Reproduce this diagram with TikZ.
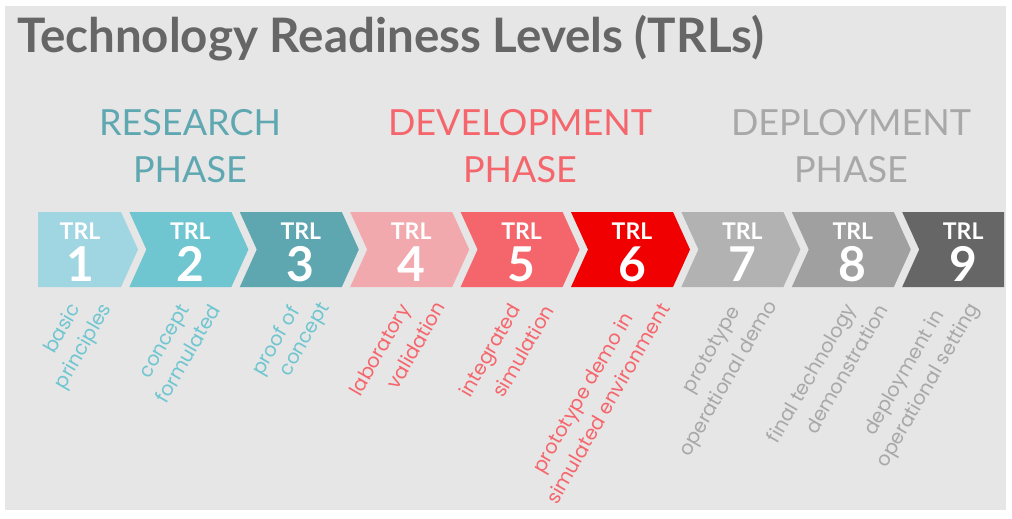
\documentclass[tikz,border=0pt]{standalone}
\usepackage{fontspec}
\newfontfamily\titlefont{Lato}
\newfontfamily\descfont{Poppins}
\definecolor{bg}{HTML}{E6E6E6}
\definecolor{titlegray}{HTML}{666666}
\definecolor{trlA}{HTML}{A0D5E2}
\definecolor{trlB}{HTML}{6FC6D0}
\definecolor{trlC}{HTML}{5EA6B0}
\definecolor{trlD}{HTML}{F2A9AE}
\definecolor{trlE}{HTML}{F5666C}
\definecolor{trlF}{HTML}{F00000}
\definecolor{trlG}{HTML}{B2B2B2}
\definecolor{trlH}{HTML}{A0A0A0}
\definecolor{trlI}{HTML}{666666}
\definecolor{resC}{HTML}{5FA8B2}
\definecolor{resD}{HTML}{6FC6D0}
\definecolor{devC}{HTML}{F5666C}
\definecolor{depC}{HTML}{A8A8A8}
\tikzset{
  trl/.style={inner sep=0pt, text=white, font=\titlefont\bfseries\fontsize{23}{25}\selectfont},
  num/.style={inner sep=0pt, text=white, font=\titlefont\bfseries\fontsize{48}{50}\selectfont},
  phase/.style={inner sep=0pt, align=center, font=\titlefont\fontsize{36}{47}\selectfont},
  desc/.style={inner sep=0pt, rotate=60, font=\descfont\fontsize{19.5}{22}\selectfont},
}
\begin{document}
\begin{tikzpicture}[x=1pt,y=-1pt]
\useasboundingbox (0,0) rectangle (1012,519);
\fill[white] (0,0) rectangle (1012,519);
\fill[bg] (5,6) rectangle (1006,510);
\node[anchor=base west, inner sep=0pt, text=titlegray, font=\titlefont\bfseries\fontsize{47.5}{52}\selectfont] (title) at (17,53) {Technology Readiness Levels (TRLs)};
\node[phase, text=resC] (ph1) at (190,146.5) {RESEARCH\\PHASE};
\node[phase, text=devC] (ph2) at (520,146.5) {DEVELOPMENT\\PHASE};
\node[phase, text=depC] (ph3) at (851,146.5) {DEPLOYMENT\\PHASE};
\foreach \i/\col in {1/trlA,2/trlB,3/trlC,4/trlD,5/trlE,6/trlF,7/trlG,8/trlH,9/trlI}{
  \pgfmathsetmacro\c{80+(\i-1)*110.4}
  \ifnum\i=1
    \fill[\col] (\c-42,212) -- (\c+41,212) -- (\c+58,249.5) -- (\c+41,287) -- (\c-42,287) -- cycle;
  \else\ifnum\i=9
    \fill[\col] (\c-61,212) -- (\c+41,212) -- (\c+41,287) -- (\c-61,287) -- (\c-44,249.5) -- cycle;
  \else
    \fill[\col] (\c-61,212) -- (\c+41,212) -- (\c+58,249.5) -- (\c+41,287) -- (\c-61,287) -- (\c-44,249.5) -- cycle;
  \fi\fi
  \node[trl] (t\i) at (\c,231) {TRL};
  \node[num] (n\i) at (\c,264) {\i};
}
\node[desc, text=resD] (d1a) at (61,328) {basic};
\node[desc, text=resD] (d1b) at (84,347) {principles};
\node[desc, text=resD] (d2a) at (166,342) {concept};
\node[desc, text=resD] (d2b) at (187.5,353.5) {formulated};
\node[desc, text=resD] (d3a) at (277,341.5) {proof of};
\node[desc, text=resD] (d3b) at (306,340) {concept};
\node[desc, text=devC] (d4a) at (381.5,351) {laboratory};
\node[desc, text=devC] (d4b) at (415.5,345) {validation};
\node[desc, text=devC] (d5a) at (491.5,351.5) {integrated};
\node[desc, text=devC] (d5b) at (523,351) {simulation};
\node[desc, text=devC] (d6a) at (584.5,393.5) {prototype demo in};
\node[desc, text=devC] (d6b) at (607.5,403.5) {simulated environment};
\node[desc, text=depC] (d7a) at (713,350.5) {prototype};
\node[desc, text=depC] (d7b) at (729,379) {operational demo};
\node[desc, text=depC] (d8a) at (813,374) {final technology};
\node[desc, text=depC] (d8b) at (846,369) {demonstration};
\node[desc, text=depC] (d9a) at (905,373) {deployment in};
\node[desc, text=depC] (d9b) at (929,386) {operational setting};
\end{tikzpicture}
\end{document}
